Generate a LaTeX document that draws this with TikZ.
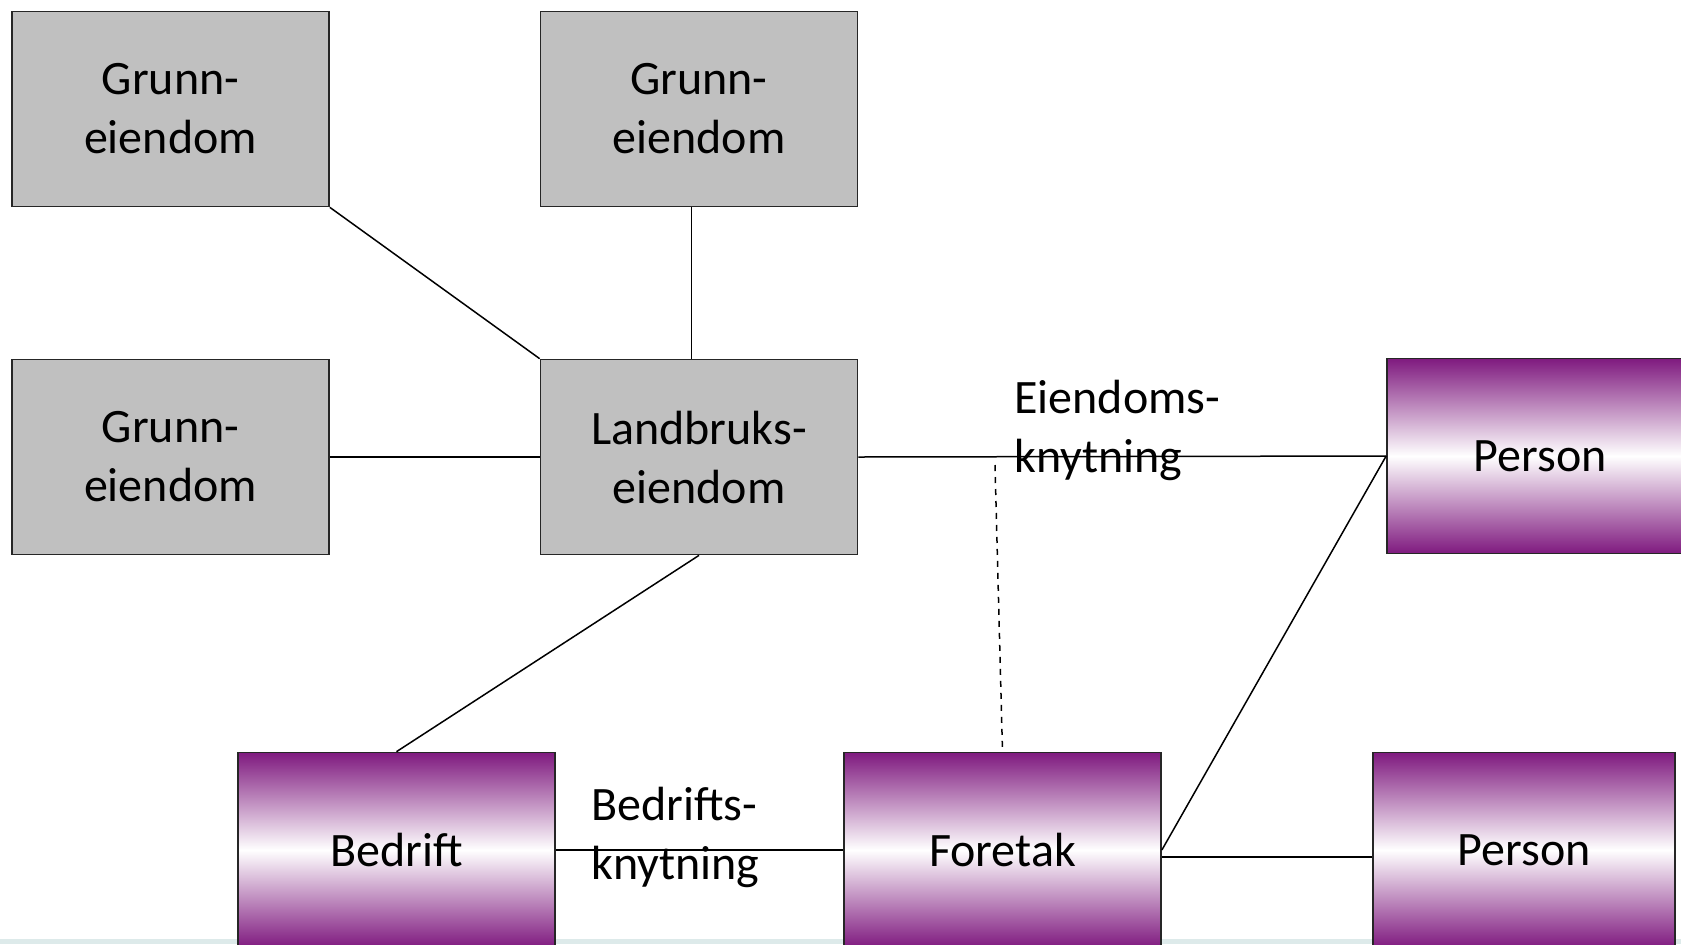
\documentclass[tikz,border=0pt]{standalone}
\usepackage{fontspec}
\setmainfont{Carlito}
\usetikzlibrary{positioning}

\definecolor{boxgray}{HTML}{C0C0C0}
\definecolor{purp}{HTML}{7F1A7F}
\definecolor{strip}{HTML}{DDEAEA}

\tikzset{
    unit box/.style={draw=black!85, line width=0.85pt, inner sep=0pt, align=center,
        minimum width=158.5pt, minimum height=97.5pt, font=\fontsize{24}{29.5}\selectfont},
    gray box/.style={unit box, fill=boxgray},
    purple box/.style={unit box, top color=purp, bottom color=purp, middle color=white},
    link/.style={line width=0.75pt},
    link label/.style={align=left, inner sep=0pt, font=\fontsize{24}{29.5}\selectfont}
}

\begin{document}
\begin{tikzpicture}[x=0.5pt, y=-0.5pt]
    \useasboundingbox (0,0) rectangle (1681,944);
    \fill[strip] (0,939) rectangle (1681,944);

    \node[gray box] (grunnA) at (170.5, 109) {Grunn-\\eiendom};
    \node[gray box] (grunnB) at (699, 109) {Grunn-\\eiendom};
    \node[gray box] (grunnC) at (170.5, 457) {Grunn-\\eiendom};
    \node[gray box] (landbruk) at (699, 457) {Landbruks-\\eiendom};
    \node[purple box, minimum width=153pt] (personA) at (1540, 456) {Person};
    \node[purple box] (bedrift) at (396.5, 850) {Bedrift};
    \node[purple box] (foretak) at (1002.5, 850) {Foretak};
    \node[purple box, minimum width=151pt] (personB) at (1524, 850) {Person};

    \draw[link] (grunnA.south east) -- (landbruk.north west);
    \draw[link] ([xshift=-3.75pt]grunnB.south) -- ([xshift=-3.75pt]landbruk.north);
    \draw[link] (grunnC.east) -- (landbruk.west);
    \draw[link] (landbruk.east) -- (personA.west);
    \draw[link] (landbruk.south) -- (bedrift.north);
    \draw[link] (bedrift.east) -- (foretak.west);
    \draw[link] (foretak.east) -- (personA.west);
    \draw[link] ([yshift=-3.5pt]foretak.east) -- ([yshift=-3.5pt]personB.west);

    \coordinate (dashTop) at (995, 465);
    \draw[link, dashed] (dashTop) -- (foretak.north);

    \node[link label, anchor=west] (eiendomsKnyt) at (1014, 430) {Eiendoms-\\knytning};
    \node[link label, anchor=west] (bedriftsKnyt) at (591, 837) {Bedrifts-\\knytning};
\end{tikzpicture}
\end{document}
